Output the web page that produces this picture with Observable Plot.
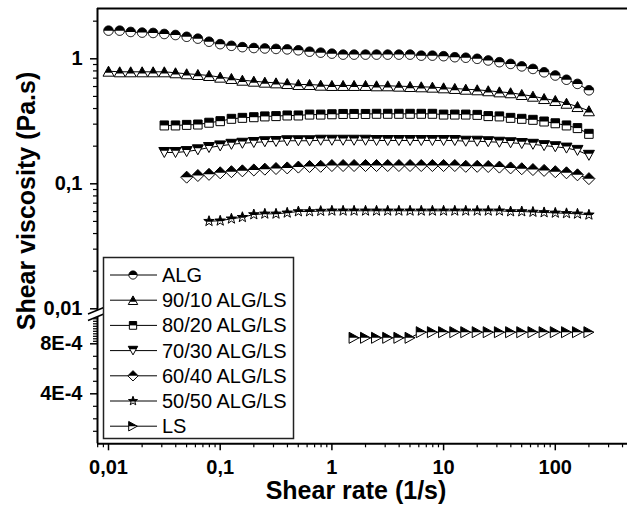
<!DOCTYPE html>
<html><head><meta charset="utf-8">
<script src="https://cdn.jsdelivr.net/npm/d3@7"></script>
<script src="https://cdn.jsdelivr.net/npm/@observablehq/plot@0.6"></script>
<style>
html,body{margin:0;padding:0;background:#fff;}
#chart{position:relative;width:627px;height:509px;overflow:hidden;font-family:"Liberation Sans",Arial,sans-serif;}
#chart svg{position:absolute;left:0;}
</style></head><body><div id="chart"></div>
<script>
// ---------------- data ----------------
const shearRate = [0.01, 0.0126, 0.0158, 0.02, 0.0251, 0.0316, 0.0398, 0.0501, 0.0631, 0.0794,
  0.1, 0.126, 0.158, 0.2, 0.251, 0.316, 0.398, 0.501, 0.631, 0.794,
  1, 1.26, 1.58, 2, 2.51, 3.16, 3.98, 5.01, 6.31, 7.94,
  10, 12.6, 15.8, 20, 25.1, 31.6, 39.8, 50.1, 63.1, 79.4,
  100, 126, 158, 200];

const seriesNames = ["ALG", "90/10 ALG/LS", "80/20 ALG/LS", "70/30 ALG/LS", "60/40 ALG/LS", "50/50 ALG/LS", "LS"];

// each series ends at the last shear rate (200 1/s)
const ALG = [1.68, 1.68, 1.64, 1.62, 1.61, 1.58, 1.55, 1.50, 1.45, 1.37,
  1.31, 1.27, 1.24, 1.22, 1.21, 1.20, 1.19, 1.17, 1.14, 1.12,
  1.10, 1.08, 1.08, 1.08, 1.08, 1.08, 1.08, 1.08, 1.06, 1.06,
  1.05, 1.03, 1.02, 1.00, 0.97, 0.94, 0.91, 0.87, 0.83, 0.78,
  0.735, 0.68, 0.63, 0.56];
const ALG_LS_90_10 = [0.796, 0.787, 0.787, 0.787, 0.787, 0.787, 0.773, 0.759, 0.749, 0.735,
  0.713, 0.696, 0.674, 0.662, 0.650, 0.642, 0.634, 0.623, 0.623, 0.615,
  0.612, 0.612, 0.612, 0.612, 0.608, 0.608, 0.604, 0.600, 0.597, 0.593,
  0.586, 0.579, 0.571, 0.565, 0.555, 0.544, 0.535, 0.518, 0.502, 0.481,
  0.464, 0.441, 0.415, 0.384];
const ALG_LS_80_20 = [0.293, 0.293, 0.296, 0.298, 0.308,
  0.317, 0.331, 0.337, 0.341, 0.346, 0.348, 0.352, 0.352, 0.358, 0.358,
  0.360, 0.362, 0.362, 0.362, 0.363, 0.363, 0.363, 0.363, 0.363, 0.363,
  0.358, 0.358, 0.358, 0.356, 0.348, 0.346, 0.337, 0.331, 0.325, 0.315,
  0.305, 0.293, 0.279, 0.251];
const ALG_LS_70_30 = [0.178, 0.178, 0.181, 0.187, 0.195,
  0.201, 0.207, 0.211, 0.214, 0.217, 0.218, 0.221, 0.221, 0.221, 0.223,
  0.223, 0.223, 0.223, 0.223, 0.222, 0.222, 0.222, 0.222, 0.222, 0.222,
  0.222, 0.222, 0.219, 0.219, 0.217, 0.215, 0.213, 0.210, 0.207, 0.202,
  0.198, 0.193, 0.185, 0.169];
const ALG_LS_60_40 = [0.113, 0.1165, 0.119,
  0.1225, 0.125, 0.127, 0.129, 0.131, 0.1325, 0.134, 0.136, 0.1375, 0.138,
  0.140, 0.140, 0.140, 0.140, 0.140, 0.140, 0.140, 0.140, 0.140, 0.140,
  0.140, 0.140, 0.138, 0.138, 0.1375, 0.136, 0.134, 0.132, 0.130, 0.128,
  0.125, 0.1225, 0.118, 0.110];
const ALG_LS_50_50 = [0.0502,
  0.0506, 0.0525, 0.054, 0.0568, 0.0575, 0.0575, 0.0586, 0.060, 0.060, 0.0605,
  0.0608, 0.0608, 0.0608, 0.0608, 0.0608, 0.0608, 0.0608, 0.0608, 0.0608, 0.0608,
  0.0608, 0.0608, 0.0608, 0.0608, 0.0608, 0.0608, 0.060, 0.060, 0.0595, 0.059,
  0.0585, 0.058, 0.0575, 0.0565];
const LS = [8.48e-4, 8.48e-4, 8.48e-4, 8.48e-4, 8.48e-4, 8.48e-4,
  8.93e-4, 8.93e-4, 8.93e-4, 8.93e-4, 8.93e-4, 8.93e-4, 8.93e-4, 8.93e-4,
  8.93e-4, 8.93e-4, 8.93e-4, 8.93e-4, 8.93e-4, 8.93e-4, 8.93e-4, 8.93e-4];

const xTickValues = [0.01, 0.1, 1, 10, 100];
const xTickLabels = ["0,01", "0,1", "1", "10", "100"];
const yTopTickValues = [0.01, 0.1, 1];
const yTopTickLabels = ["0,01", "0,1", "1"];
const yLowTickValues = [4e-4, 8e-4];
const yLowTickLabels = ["4E-4", "8E-4"];

// ---------------- symbols ----------------
const symbolKinds = ["circle", "triangle", "square", "triangleDown", "diamond", "star", "triangleRight"];
const splitLine = {circle: 0, triangle: 1/3, square: 0, triangleDown: -1/3, diamond: 0, star: 0.1, triangleRight: 0};
function shapePoly(kind, r) {
  switch (kind) {
    case "circle": return d3.range(40).map(i => { const a = 2 * Math.PI * i / 40; return [0.95 * r * Math.cos(a), 0.95 * r * Math.sin(a)]; });
    case "triangle": return [[0, -r], [1.1 * r, r], [-1.1 * r, r]];
    case "square": return [[-0.85 * r, -0.9 * r], [0.85 * r, -0.9 * r], [0.85 * r, 0.9 * r], [-0.85 * r, 0.9 * r]];
    case "triangleDown": return [[-1.1 * r, -r], [1.1 * r, -r], [0, r]];
    case "diamond": return [[0, -1.2 * r], [1.2 * r, 0], [0, 1.2 * r], [-1.2 * r, 0]];
    case "star": return d3.range(10).map(i => { const a = -Math.PI / 2 + i * Math.PI / 5; const rr = i % 2 ? 0.45 * r : 1.1 * r; return [rr * Math.cos(a), rr * Math.sin(a)]; });
    case "triangleRight": return [[-r, -1.1 * r], [r, 0], [-r, 1.1 * r]];
  }
}
function clipAbove(poly, yc) {
  const out = [], n = poly.length;
  const inter = (p, q) => { const t = (yc - p[1]) / (q[1] - p[1]); return [p[0] + t * (q[0] - p[0]), yc]; };
  for (let i = 0; i < n; i++) {
    const cur = poly[i], prev = poly[(i + n - 1) % n];
    const ci = cur[1] <= yc, pi = prev[1] <= yc;
    if (ci) { if (!pi) out.push(inter(prev, cur)); out.push(cur); }
    else if (pi) out.push(inter(prev, cur));
  }
  return out;
}
function symbolOf(kind, half) {
  return {
    draw(ctx, size) {
      const r = Math.sqrt(size / Math.PI);
      let p = shapePoly(kind, r);
      if (half) p = clipAbove(p, splitLine[kind] * r);
      if (p.length < 3) return;
      ctx.moveTo(p[0][0], p[0][1]);
      for (let i = 1; i < p.length; i++) ctx.lineTo(p[i][0], p[i][1]);
      ctx.closePath();
    }
  };
}

function rowsOf(values) {
  const off = shearRate.length - values.length;
  return values.map((v, i) => ({x: shearRate[off + i], y: v}));
}
function seriesMarks(values, kind) {
  const rows = rowsOf(values);
  return [
    Plot.line(rows, {x: "x", y: "y", stroke: "black", strokeWidth: 1}),
    Plot.dot(rows, {x: "x", y: "y", r: 5, symbol: symbolOf(kind, false), fill: "white", stroke: "black", strokeWidth: 1}),
    Plot.dot(rows, {x: "x", y: "y", r: 5, symbol: symbolOf(kind, true), fill: "black", stroke: "none"})
  ];
}

// ---------------- layout ----------------
const W = 627;
const xDomain = [Math.pow(10, -2.0985), Math.pow(10, 2.6465)];
const upperYDomain = [Math.pow(10, -2.0216), Math.pow(10, 0.4024)];
const lowerYDomain = [0, 1.0104e-3];
const decades = [-3, -2, -1, 0, 1, 2];
const logMinor = decades.flatMap(e => [2, 3, 4, 5, 6, 7, 8, 9].map(m => m * Math.pow(10, e)));
const plotStyle = {fontFamily: "'Liberation Sans', Arial, sans-serif", fontSize: "20px", fontWeight: "bold", background: "transparent", overflow: "visible", color: "black"};
const lookup = (vals, labels) => d => { const i = vals.findIndex(v => Math.abs(v - d) / v < 1e-6); return i < 0 ? "" : labels[i]; };

const upperSeries = [ALG, ALG_LS_90_10, ALG_LS_80_20, ALG_LS_70_30, ALG_LS_60_40, ALG_LS_50_50];

const upper = Plot.plot({
  width: W, height: 312, marginLeft: 97, marginRight: 0, marginTop: 8, marginBottom: 1,
  x: {type: "log", domain: xDomain, axis: null, label: null},
  y: {type: "log", domain: upperYDomain, label: null},
  style: plotStyle,
  marks: [
    Plot.ruleY([upperYDomain[1]], {stroke: "black", strokeWidth: 2}),
    Plot.ruleX([xDomain[0]], {stroke: "black", strokeWidth: 2}),
    Plot.axisY({ticks: logMinor.filter(v => v > upperYDomain[0] && v < upperYDomain[1]), tickSize: 4, tickFormat: () => "", label: null, strokeWidth: 1.2}),
    Plot.axisY({ticks: yTopTickValues, tickSize: 7, tickPadding: 8, tickFormat: lookup(yTopTickValues, yTopTickLabels), label: null, strokeWidth: 1.5}),
    ...upperSeries.flatMap((vals, i) => seriesMarks(vals, symbolKinds[i]))
  ]
});
upper.style.top = "0px";

const lowerMinor = [1e-4, 2e-4, 3e-4, 5e-4, 6e-4, 7e-4];
const lowerDense = d3.range(8.2e-4, 1.005e-3, 2e-5);
const lower = Plot.plot({
  width: W, height: 192, marginLeft: 97, marginRight: 0, marginTop: 0, marginBottom: 192 - 126.3,
  x: {type: "log", domain: xDomain, label: null},
  y: {type: "linear", domain: lowerYDomain, label: null},
  style: plotStyle,
  marks: [
    Plot.ruleX([xDomain[0]], {stroke: "black", strokeWidth: 2}),
    Plot.ruleY([0], {stroke: "black", strokeWidth: 2}),
    Plot.axisY({ticks: lowerMinor.concat(lowerDense), tickSize: 4, tickFormat: () => "", label: null, strokeWidth: 1.2}),
    Plot.axisY({ticks: yLowTickValues, tickSize: 7, tickPadding: 8, tickFormat: lookup(yLowTickValues, yLowTickLabels), label: null, strokeWidth: 1.5}),
    Plot.axisX({ticks: logMinor.filter(v => v > xDomain[0] && v < xDomain[1]), tickSize: 4, tickFormat: () => "", label: null, strokeWidth: 1.2}),
    Plot.axisX({ticks: xTickValues, tickSize: 7, tickPadding: 9, tickFormat: lookup(xTickValues, xTickLabels), label: null, strokeWidth: 1.5}),
    ...seriesMarks(LS, symbolKinds[6])
  ]
});
lower.style.top = "317px";

const chart = document.getElementById("chart");
chart.appendChild(upper);
chart.appendChild(lower);

// ---------------- overlay: titles, axis break, legend ----------------
const ov = d3.select(chart).append("svg").attr("width", W).attr("height", 509).style("top", "0px")
  .style("font-family", "'Liberation Sans', Arial, sans-serif");

// axis break
ov.append("path").attr("d", "M88,314 L105,307 L105,313.5 L88,320.5 Z").attr("fill", "white");
ov.append("path").attr("d", "M88,314 L105,307 M88,320.5 L105,313.5").attr("stroke", "black").attr("stroke-width", 1.5).attr("fill", "none");

// titles
ov.append("text").attr("transform", "translate(35,201) rotate(-90)").attr("text-anchor", "middle")
  .attr("font-size", 25).attr("font-weight", "bold").text("Shear viscosity (Pa.s)");
ov.append("text").attr("x", 356).attr("y", 499).attr("text-anchor", "middle")
  .attr("font-size", 25).attr("font-weight", "bold").text("Shear rate (1/s)");

// legend
const lg = ov.append("g");
lg.append("rect").attr("x", 103.5).attr("y", 257.5).attr("width", 190).attr("height", 181)
  .attr("fill", "white").attr("stroke", "#222").attr("stroke-width", 1.5);
seriesNames.forEach((name, i) => {
  const cy = 275 + i * 25.2;
  lg.append("line").attr("x1", 110).attr("x2", 157).attr("y1", cy).attr("y2", cy).attr("stroke", "black").attr("stroke-width", 1);
  const size = Math.PI * 4.3 * 4.3;
  const pFull = d3.path(); symbolOf(symbolKinds[i], false).draw(pFull, size);
  const pHalf = d3.path(); symbolOf(symbolKinds[i], true).draw(pHalf, size);
  lg.append("path").attr("transform", `translate(133,${cy})`).attr("d", pFull.toString()).attr("fill", "white").attr("stroke", "black").attr("stroke-width", 1);
  lg.append("path").attr("transform", `translate(133,${cy})`).attr("d", pHalf.toString()).attr("fill", "black");
  lg.append("text").attr("x", 162).attr("y", cy + 7).attr("font-size", 20).text(name);
});
</script>
</body></html>
